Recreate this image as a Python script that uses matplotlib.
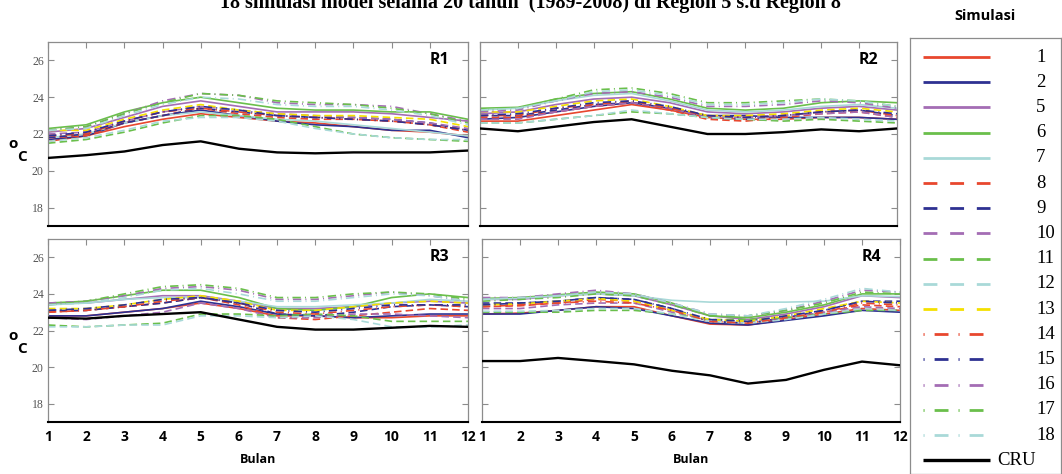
import matplotlib
matplotlib.use("Agg")
import matplotlib.pyplot as plt

#----Data (deg C)

months = [1, 2, 3, 4, 5, 6, 7, 8, 9, 10, 11, 12]
month_labels = [str(m) for m in months]
series_names = ["1", "2", "5", "6", "7", "8", "9", "10", "11", "12", "13",
                "14", "15", "16", "17", "18", "CRU"]
yticks = [18, 20, 22, 24, 26]

# rows follow series_names
r1 = [
    [21.6, 21.9, 22.4, 22.8, 23.1, 22.9, 22.7, 22.6, 22.4, 22.2, 22.1, 21.9],
    [21.7, 21.9, 22.6, 23.0, 23.3, 23.0, 22.7, 22.5, 22.4, 22.2, 22.2, 21.8],
    [22.1, 22.3, 22.9, 23.5, 23.8, 23.5, 23.2, 23.2, 23.2, 23.1, 22.9, 22.7],
    [22.3, 22.5, 23.2, 23.7, 24.0, 23.7, 23.4, 23.3, 23.3, 23.2, 23.2, 22.8],
    [21.8, 22.0, 22.6, 23.0, 23.2, 23.0, 22.8, 22.7, 22.5, 22.3, 22.1, 21.9],
    [21.8, 21.9, 22.6, 23.0, 23.4, 23.1, 22.9, 22.8, 22.8, 22.7, 22.5, 22.1],
    [21.8, 22.0, 22.6, 23.0, 23.4, 23.2, 23.0, 22.9, 22.9, 22.8, 22.6, 22.2],
    [22.0, 22.1, 22.7, 23.2, 23.5, 23.3, 23.1, 23.0, 22.9, 22.8, 22.6, 22.3],
    [21.5, 21.7, 22.1, 22.6, 23.0, 23.0, 22.8, 22.4, 22.0, 21.8, 21.7, 21.6],
    [21.6, 21.8, 22.2, 22.7, 22.9, 22.9, 22.7, 22.3, 22.0, 21.8, 21.7, 21.7],
    [22.2, 22.2, 22.8, 23.3, 23.6, 23.3, 23.1, 23.0, 23.0, 22.9, 22.8, 22.4],
    [21.9, 22.0, 22.7, 23.2, 23.4, 23.2, 23.0, 22.9, 22.8, 22.7, 22.5, 22.2],
    [21.9, 22.1, 22.7, 23.2, 23.5, 23.3, 23.0, 22.9, 22.8, 22.7, 22.5, 22.2],
    [22.2, 22.4, 23.1, 23.8, 24.2, 24.1, 23.7, 23.6, 23.6, 23.5, 23.1, 22.7],
    [22.2, 22.4, 23.1, 23.7, 24.2, 24.1, 23.8, 23.7, 23.6, 23.4, 23.1, 22.6],
    [22.2, 22.3, 23.0, 23.6, 24.0, 23.9, 23.6, 23.5, 23.5, 23.3, 23.0, 22.5],
    [20.7, 20.85, 21.05, 21.4, 21.6, 21.2, 21.0, 20.95, 21.0, 21.0, 21.0, 21.1],
]

r2 = [
    [22.7, 22.7, 23.0, 23.3, 23.6, 23.3, 22.9, 22.8, 22.8, 22.9, 22.9, 22.8],
    [22.8, 22.9, 23.2, 23.5, 23.7, 23.4, 23.0, 23.0, 22.9, 22.9, 22.9, 22.8],
    [23.1, 23.2, 23.6, 23.9, 24.0, 23.7, 23.2, 23.1, 23.2, 23.4, 23.5, 23.3],
    [23.4, 23.45, 23.9, 24.2, 24.3, 23.9, 23.4, 23.3, 23.4, 23.7, 23.8, 23.7],
    [23.3, 23.4, 23.8, 24.1, 24.2, 23.8, 23.3, 23.2, 23.3, 23.5, 23.6, 23.4],
    [22.9, 22.9, 23.2, 23.5, 23.7, 23.3, 22.8, 22.7, 22.9, 23.1, 23.2, 22.9],
    [23.0, 23.0, 23.3, 23.6, 23.7, 23.4, 22.9, 22.8, 23.0, 23.2, 23.3, 23.0],
    [22.8, 22.8, 23.2, 23.5, 23.7, 23.4, 22.9, 22.9, 23.0, 23.1, 23.2, 22.9],
    [22.6, 22.6, 22.8, 23.0, 23.2, 23.1, 22.9, 22.8, 22.7, 22.8, 22.7, 22.6],
    [22.6, 22.6, 22.8, 23.0, 23.3, 23.1, 22.9, 22.8, 22.8, 22.9, 22.8, 22.7],
    [23.2, 23.2, 23.5, 23.8, 23.9, 23.5, 23.0, 23.0, 23.1, 23.3, 23.4, 23.2],
    [23.0, 23.0, 23.4, 23.6, 23.8, 23.4, 23.0, 22.9, 23.0, 23.2, 23.3, 23.0],
    [23.0, 23.1, 23.4, 23.7, 23.8, 23.5, 23.0, 22.9, 23.0, 23.2, 23.3, 23.1],
    [23.2, 23.3, 23.8, 24.2, 24.3, 24.0, 23.5, 23.5, 23.6, 23.8, 23.7, 23.4],
    [23.3, 23.4, 23.9, 24.4, 24.5, 24.2, 23.7, 23.7, 23.8, 23.9, 23.8, 23.5],
    [23.3, 23.4, 23.8, 24.3, 24.4, 24.1, 23.6, 23.6, 23.7, 23.9, 23.8, 23.5],
    [22.3, 22.15, 22.4, 22.65, 22.8, 22.4, 22.0, 22.0, 22.1, 22.25, 22.15, 22.3],
]

r3 = [
    [22.8, 22.8, 23.0, 23.2, 23.5, 23.2, 22.8, 22.8, 22.7, 22.7, 22.8, 22.8],
    [22.8, 22.8, 23.0, 23.2, 23.6, 23.3, 22.9, 22.8, 22.7, 22.8, 22.9, 22.9],
    [23.5, 23.5, 23.7, 23.9, 23.9, 23.6, 23.2, 23.2, 23.3, 23.5, 23.6, 23.5],
    [23.5, 23.6, 23.9, 24.2, 24.2, 23.8, 23.2, 23.1, 23.3, 23.8, 24.0, 23.8],
    [23.4, 23.5, 23.7, 23.8, 23.8, 23.6, 23.3, 23.3, 23.4, 23.5, 23.7, 23.6],
    [23.0, 23.1, 23.3, 23.5, 23.8, 23.4, 22.7, 22.6, 22.8, 23.0, 23.2, 23.1],
    [23.1, 23.1, 23.3, 23.5, 23.8, 23.5, 22.9, 22.8, 23.0, 23.3, 23.4, 23.3],
    [22.7, 22.6, 22.8, 23.0, 23.5, 23.2, 22.7, 22.7, 22.9, 22.9, 22.8, 22.7],
    [22.3, 22.2, 22.3, 22.4, 22.9, 22.9, 22.8, 22.9, 22.8, 22.5, 22.5, 22.5],
    [22.2, 22.2, 22.3, 22.3, 22.8, 22.8, 22.7, 22.8, 22.6, 22.2, 22.2, 22.3],
    [23.2, 23.2, 23.4, 23.7, 23.9, 23.6, 23.1, 23.1, 23.3, 23.5, 23.6, 23.5],
    [23.0, 23.1, 23.3, 23.6, 23.8, 23.5, 23.0, 22.9, 23.1, 23.3, 23.4, 23.3],
    [23.1, 23.2, 23.4, 23.7, 23.8, 23.5, 23.1, 23.0, 23.2, 23.4, 23.4, 23.4],
    [23.5, 23.6, 23.9, 24.3, 24.4, 24.2, 23.7, 23.7, 23.9, 24.1, 23.9, 23.6],
    [23.4, 23.6, 24.0, 24.4, 24.5, 24.3, 23.8, 23.8, 24.0, 24.1, 24.0, 23.7],
    [23.4, 23.5, 23.8, 24.2, 24.3, 24.0, 23.6, 23.6, 23.8, 24.0, 23.9, 23.6],
    [22.7, 22.65, 22.8, 22.9, 23.0, 22.6, 22.2, 22.05, 22.05, 22.15, 22.25, 22.2],
]

r4 = [
    [22.9, 22.95, 23.1, 23.3, 23.3, 22.8, 22.35, 22.3, 22.6, 22.9, 23.2, 23.1],
    [22.9, 22.9, 23.1, 23.3, 23.2, 22.8, 22.4, 22.3, 22.55, 22.8, 23.1, 23.0],
    [23.7, 23.7, 23.9, 24.0, 23.9, 23.4, 22.8, 22.6, 22.9, 23.3, 23.9, 23.8],
    [23.75, 23.8, 23.95, 24.1, 24.0, 23.5, 22.8, 22.7, 23.0, 23.4, 24.0, 24.0],
    [23.7, 23.75, 23.9, 24.0, 23.9, 23.65, 23.55, 23.55, 23.55, 23.6, 23.9, 23.85],
    [23.3, 23.35, 23.5, 23.7, 23.6, 23.1, 22.5, 22.4, 22.7, 23.0, 23.4, 23.3],
    [23.5, 23.5, 23.6, 23.8, 23.7, 23.2, 22.5, 22.4, 22.7, 23.1, 23.6, 23.6],
    [23.2, 23.2, 23.4, 23.5, 23.5, 23.0, 22.6, 22.5, 22.7, 23.0, 23.3, 23.2],
    [23.0, 23.0, 23.0, 23.1, 23.1, 22.9, 22.6, 22.6, 22.7, 22.9, 23.1, 23.1],
    [23.05, 23.05, 23.1, 23.2, 23.2, 22.9, 22.5, 22.4, 22.6, 22.9, 23.2, 23.1],
    [23.4, 23.45, 23.6, 23.75, 23.6, 23.1, 22.6, 22.5, 22.8, 23.2, 23.6, 23.5],
    [23.3, 23.4, 23.5, 23.6, 23.5, 23.1, 22.5, 22.4, 22.7, 23.0, 23.5, 23.4],
    [23.4, 23.5, 23.6, 23.8, 23.7, 23.2, 22.6, 22.5, 22.8, 23.1, 23.6, 23.5],
    [23.8, 23.8, 24.0, 24.2, 24.0, 23.5, 22.9, 22.8, 23.1, 23.6, 24.2, 24.1],
    [23.6, 23.7, 23.8, 24.0, 23.9, 23.4, 22.8, 22.8, 23.1, 23.5, 24.1, 24.0],
    [23.7, 23.8, 23.9, 24.1, 24.0, 23.5, 22.9, 22.8, 23.2, 23.7, 24.3, 24.1],
    [20.33, 20.33, 20.5, 20.33, 20.15, 19.8, 19.55, 19.1, 19.3, 19.85, 20.3, 20.1],
]

#----Styles

RED = "#e8472e"
BLUE = "#2e3192"
PURPLE = "#a46db4"
GREEN = "#6abf4b"
CYAN = "#a9d9d8"
YELLOW = "#f4e000"
colors = [RED, BLUE, PURPLE, GREEN, CYAN,
          RED, BLUE, PURPLE, GREEN, CYAN, YELLOW,
          RED, BLUE, PURPLE, GREEN, CYAN, "black"]
kinds = ["solid"] * 5 + ["dash"] * 6 + ["dashdot"] * 5 + ["solid"]

plot_dash = {"solid": "-", "dash": (0, (4.5, 2.5)), "dashdot": (0, (5, 2.5, 0.6, 2.5))}
leg_dash = {"solid": "-", "dash": (0, (5.0, 4.6)), "dashdot": (0, (0.4, 3.6, 5.0, 3.6))}

W, H = 1062, 474
fig = plt.figure(figsize=(W / 100, H / 100), dpi=100)

GREY = "#8c8c8c"


def px_axes(left, top, right, bottom):
    return fig.add_axes([left / W, 1 - bottom / H, (right - left) / W, (bottom - top) / H])


panels = [
    ("R1", r1, (48, 42, 468, 226), True, False),
    ("R2", r2, (480, 42, 897, 226), False, False),
    ("R3", r3, (48, 239, 468, 422), True, True),
    ("R4", r4, (482, 239, 900, 422), False, True),
]

for name, data, box, left_col, bottom_row in panels:
    ax = px_axes(*box)
    for row, col, kind in zip(data, colors, kinds):
        lw = 1.7 if col == "black" else 1.2
        ax.plot(months, row, color=col, lw=lw, linestyle=plot_dash[kind],
                zorder=3 if col == "black" else 2)
    ax.set_xlim(1, 12)
    ax.set_ylim(17, 27)
    ax.set_yticks(yticks)
    ax.set_xticks(months)
    for s in ("left", "top", "right"):
        ax.spines[s].set_color(GREY)
        ax.spines[s].set_linewidth(0.9)
    ax.spines["bottom"].set_color("black")
    ax.spines["bottom"].set_linewidth(1.5)
    ax.tick_params(direction="in", colors=GREY, length=4, width=0.8,
                   top=True, right=True, bottom=False)
    ax.tick_params(axis="y", labelcolor="#555555", labelsize=8.5, pad=3)
    for lab in ax.get_yticklabels():
        lab.set_fontfamily("Liberation Serif")
    if not left_col:
        ax.set_yticklabels([])
    if bottom_row:
        ax.set_xticklabels(month_labels, fontsize=10, fontweight="bold",
                           fontfamily="Open Sans", color="black")
        ax.tick_params(axis="x", labelbottom=True, pad=6)
        ax.set_xlabel("Bulan", fontsize=9, fontweight="bold",
                      fontfamily="Open Sans", labelpad=6)
    else:
        ax.set_xticklabels([])
    ax.text(0.955, 0.9, name, transform=ax.transAxes, ha="right", va="center",
            fontsize=11.5, fontweight="bold", fontfamily="Open Sans")

# y axis unit labels
for y_o in (144, 336):
    fig.text(13 / W, 1 - y_o / H, "o", fontsize=11, fontweight="bold",
             fontfamily="Open Sans", ha="center", va="center")
    fig.text(22 / W, 1 - (y_o + 13) / H, "C", fontsize=11, fontweight="bold",
             fontfamily="Open Sans", ha="center", va="center")

# title, cut off by the top edge as in the source
fig.text(530 / W, 1 - 8 / H,
         "18 simulasi model selama 20 tahun  (1989-2008) di Region 5 s.d Region 8",
         ha="center", va="baseline", fontsize=14.5, fontweight="bold",
         fontfamily="Liberation Serif")

fig.text(985 / W, 1 - 16 / H, "Simulasi", ha="center", va="center",
         fontsize=10.5, fontweight="bold", fontfamily="Open Sans")

# legend box
lax = px_axes(910, 38, 1061, 474)
lax.set_xlim(910, 1061)
lax.set_ylim(474, 38)
lax.set_xticks([])
lax.set_yticks([])
for s in lax.spines.values():
    s.set_color(GREY)
    s.set_linewidth(0.9)
row_y0, row_dy = 57, 25.2
for i, (lab, col, kind) in enumerate(zip(series_names, colors, kinds)):
    y = row_y0 + i * row_dy
    lw = 2.4 if col == "black" else 2.0
    lax.plot([922.5, 990], [y, y], color=col, lw=lw, linestyle=leg_dash[kind],
             solid_capstyle="butt", dash_capstyle="butt")
    x_lab = 997 if lab == "CRU" else 1036
    lax.text(x_lab, y, lab, ha="left", va="center", fontsize=13.5,
             fontfamily="Liberation Serif")

fig.savefig("out.png", dpi=100)
